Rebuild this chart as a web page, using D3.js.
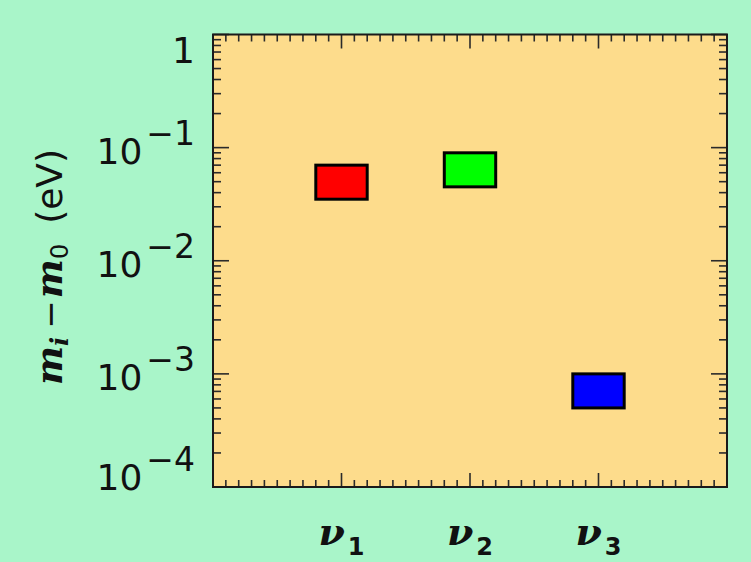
<!DOCTYPE html>
<html>
<head>
<meta charset="utf-8">
<script src="https://cdn.jsdelivr.net/npm/d3@7"></script>
<style>
  html, body { margin: 0; padding: 0; background: #a9f5c9; }
  svg { display: block; }
</style>
</head>
<body>
<svg id="chart" width="751" height="562"></svg>
<script>
// ---- data ----
const categories = ["1", "2", "3"];            // subscripts of ν
const categoryPos = [1, 2, 3];
const lowValues  = [0.035, 0.045, 0.0005];
const highValues = [0.07, 0.09, 0.001];
const boxColors  = ["#ff0000", "#00ff00", "#0000ff"];
const yTickValues = [1, 0.1, 0.01, 0.001, 0.0001];
const yTickBase   = ["1", "10", "10", "10", "10"];
const yTickExp    = ["", "\u22121", "\u22122", "\u22123", "\u22124"];

// ---- layout ----
const W = 751, H = 562;
const L = 213, R = 727, T = 34.5, B = 487;

const svg = d3.select("#chart");
svg.append("rect").attr("width", W).attr("height", H).attr("fill", "#a9f5c9");

const x = d3.scaleLinear().domain([0, 4]).range([L, R]);
const y = d3.scaleLog().domain([1e-4, 1]).range([B, T]);

// plot area
svg.append("rect").attr("x", L).attr("y", T).attr("width", R - L).attr("height", B - T)
  .attr("fill", "#fddc8c");

// boxes
const hw = 0.2;
svg.append("g").selectAll("rect").data(categories).join("rect")
  .attr("x", (d, i) => x(categoryPos[i] - hw))
  .attr("width", (d, i) => x(categoryPos[i] + hw) - x(categoryPos[i] - hw))
  .attr("y", (d, i) => y(highValues[i]))
  .attr("height", (d, i) => y(lowValues[i]) - y(highValues[i]))
  .attr("fill", (d, i) => boxColors[i])
  .attr("stroke", "#000").attr("stroke-width", 3);

// ticks
const tickColor = "#2a2a2a";
const ticksG = svg.append("g").attr("stroke", tickColor).attr("stroke-width", 1.6);
const yMinor = [];
for (let k = -4; k < 0; k++) for (let m = 2; m <= 9; m++) yMinor.push(m * Math.pow(10, k));
const yMajor = yTickValues;
[[L, 1], [R, -1]].forEach(([x0, dir]) => {
  ticksG.selectAll(null).data(yMinor).join("line")
    .attr("x1", x0).attr("x2", x0 + dir * 8)
    .attr("y1", d => y(d)).attr("y2", d => y(d));
  ticksG.selectAll(null).data(yMajor).join("line")
    .attr("x1", x0).attr("x2", x0 + dir * 16)
    .attr("y1", d => y(d)).attr("y2", d => y(d));
});
const xMinor = d3.range(1, 40).map(d => d / 10).filter(d => Math.abs(d - Math.round(d)) > 1e-6);
const xMajor = categoryPos;
[[B, -1], [T, 1]].forEach(([y0, dir]) => {
  ticksG.selectAll(null).data(xMinor).join("line")
    .attr("x1", d => x(d)).attr("x2", d => x(d))
    .attr("y1", y0).attr("y2", y0 + dir * 7);
  ticksG.selectAll(null).data(xMajor).join("line")
    .attr("x1", d => x(d)).attr("x2", d => x(d))
    .attr("y1", y0).attr("y2", y0 + dir * 14);
});

// frame
svg.append("rect").attr("x", L).attr("y", T).attr("width", R - L).attr("height", B - T)
  .attr("fill", "none").attr("stroke", "#1a1a1a").attr("stroke-width", 2);

// y tick labels
const labG = svg.append("g").attr("font-family", "'DejaVu Sans', sans-serif").attr("fill", "#111");
yTickValues.forEach((v, i) => {
  const base = Math.max(T + 28.5, Math.min(y(v) + 16.5, B + 3));
  const t = labG.append("text").attr("x", 195).attr("y", base)
    .attr("text-anchor", "end").attr("font-size", 36);
  t.append("tspan").text(yTickBase[i]);
  if (yTickExp[i]) {
    t.append("tspan").attr("dx", 4).attr("dy", -19).attr("font-size", 33).text(yTickExp[i]);
  }
});

// x category labels
const xl = svg.append("g").attr("fill", "#111");
categories.forEach((c, i) => {
  const t = xl.append("text").attr("x", x(categoryPos[i])).attr("y", 545)
    .attr("text-anchor", "middle");
  t.append("tspan").attr("font-family", "'DejaVu Serif', serif").attr("font-style", "italic")
    .attr("font-weight", "bold").attr("font-size", 38).text("\u03BD");
  t.append("tspan").attr("font-family", "'DejaVu Sans', sans-serif").attr("font-weight", "bold")
    .attr("font-size", 24).attr("dx", 3).attr("dy", 10).text(c);
});

// y axis title
const yt = svg.append("text").attr("transform", "translate(62,267) rotate(-90)")
  .attr("text-anchor", "middle").attr("fill", "#111");
yt.append("tspan").attr("font-family", "'DejaVu Serif', serif").attr("font-style", "italic")
  .attr("font-weight", "bold").attr("font-size", 37).text("m");
yt.append("tspan").attr("font-family", "'DejaVu Serif', serif").attr("font-style", "italic")
  .attr("font-weight", "bold").attr("font-size", 24).attr("dy", 6).text("i");
yt.append("tspan").attr("font-family", "'DejaVu Sans', sans-serif")
  .attr("font-size", 34).attr("dx", 8).attr("dy", -6).text("\u2212");
yt.append("tspan").attr("font-family", "'DejaVu Serif', serif").attr("font-style", "italic")
  .attr("font-weight", "bold").attr("font-size", 37).attr("dx", 2).text("m");
yt.append("tspan").attr("font-family", "'DejaVu Sans', sans-serif")
  .attr("font-size", 24).attr("dy", 6).text("0");
yt.append("tspan").attr("font-family", "'DejaVu Sans', sans-serif")
  .attr("font-size", 36).attr("dx", 20).attr("dy", -6).text("(eV)");
</script>
</body>
</html>
